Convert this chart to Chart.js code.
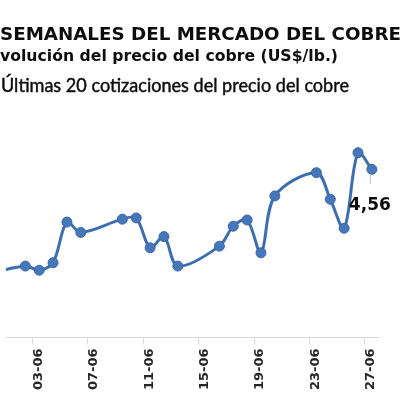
<!DOCTYPE html>
<html><head><meta charset="utf-8">
<script src="https://cdn.jsdelivr.net/npm/chart.js@4"></script>
<style>
html,body{margin:0;padding:0;background:#fff;}
#wrap{position:relative;width:400px;height:398px;overflow:hidden;background:#fff;}
#c{position:absolute;left:0;top:0;}
.t{position:absolute;white-space:nowrap;color:#0d0d0d;transform-origin:0 0;line-height:1;}
#t1{left:0px;top:25px;font-weight:bold;font-size:18.5px;font-family:'DejaVu Sans';}
#t2{left:0px;top:48px;font-weight:bold;font-size:16px;font-family:'DejaVu Sans';}
#t3{left:1px;top:75px;font-weight:normal;font-size:19px;font-family:Lato;color:#0d0d0d;-webkit-text-stroke:0.45px #0d0d0d;}
</style></head>
<body><div id="wrap">
<canvas id="c" width="400" height="398"></canvas>
<div class="t" id="t1"></div>
<div class="t" id="t2"></div>
<div class="t" id="t3"></div>
</div>
<script>
// ---- data ----
const titleLines = ["SEMANALES DEL MERCADO DEL COBRE", "volución del precio del cobre (US$/lb.)", "Últimas 20 cotizaciones del precio del cobre"];
const categories = ["30-05","02-06","03-06","04-06","05-06","06-06","09-06","10-06","11-06","12-06","13-06","16-06","17-06","18-06","19-06","20-06","23-06","24-06","25-06","26-06","27-06"];
const prices = [4.306,4.327,4.317,4.335,4.433,4.408,4.440,4.443,4.371,4.398,4.327,4.375,4.423,4.438,4.359,4.496,4.552,4.488,4.418,4.600,4.560];
const tickLabels = ["03-06","07-06","11-06","15-06","19-06","23-06","27-06"];

// ---- helpers ----
function dayNum(s){ const [d,m] = s.split('-').map(Number); return (Date.UTC(2025,m-1,d) - Date.UTC(2025,4,31))/86400000; }
const points = categories.map((c,i)=>({x: dayNum(c)+0.5, y: prices[i]}));
const tickVals = tickLabels.map(dayNum);

['t1','t2','t3'].forEach((id,i)=>{ document.getElementById(id).textContent = titleLines[i]; });
function fit(){
  const targets = {t1:401, t2:338, t3:348};
  for (const id in targets){
    const el = document.getElementById(id);
    el.style.transform = 'none';
    const w = el.getBoundingClientRect().width;
    if (w>0) el.style.transform = 'scaleX(' + (targets[id]/w) + ')';
  }
}
fit();
if (document.fonts && document.fonts.ready) document.fonts.ready.then(fit);

const lastLabel = {
  id:'lastLabel',
  afterDatasetsDraw(chart){
    const meta = chart.getDatasetMeta(0);
    const p = meta.data[meta.data.length-1];
    const ctx = chart.ctx;
    ctx.save();
    ctx.strokeStyle = '#bfbfbf'; ctx.lineWidth = 1;
    ctx.beginPath(); ctx.moveTo(p.x-1.5, p.y+5); ctx.lineTo(p.x-1.5, p.y+15); ctx.stroke();
    ctx.fillStyle = '#0d0d0d';
    ctx.font = 'bold 17px "DejaVu Sans"';
    ctx.textAlign = 'left'; ctx.textBaseline = 'alphabetic';
    ctx.fillText(prices[prices.length-1].toFixed(2).replace('.', ','), p.x-23, p.y+41);
    ctx.restore();
  }
};

new Chart(document.getElementById('c'), {
  type:'line',
  data:{ datasets:[{
    data: points,
    borderColor:'#3D6FAE',
    borderWidth:3,
    tension:0.33,
    pointRadius:5,
    pointHoverRadius:5,
    pointBackgroundColor:'#4677BA',
    pointBorderColor:'#3A69A6',
    pointBorderWidth:1,
    fill:false
  }]},
  options:{
    responsive:false,
    animation:false,
    devicePixelRatio:1,
    layout:{ padding:{ top:100, right:21.2, bottom:0, left:0 } },
    plugins:{ legend:{display:false}, tooltip:{enabled:false}, title:{display:false} },
    scales:{
      x:{
        type:'linear', min:1.104, max:28,
        afterBuildTicks(scale){ scale.ticks = tickVals.map(v=>({value:v})); },
        afterFit(scale){ scale.height = 60.5; },
        ticks:{
          autoSkip:false, minRotation:90, maxRotation:90, labelOffset:6, padding:4,
          color:'#262626', font:{family:'DejaVu Sans', size:13, weight:'bold'},
          callback(v){ const i = tickVals.indexOf(v); return i>=0 ? tickLabels[i] : ''; }
        },
        grid:{ drawOnChartArea:false, drawTicks:true, tickLength:7, color:'#d9d9d9', lineWidth:1 },
        border:{ display:true, color:'#d9d9d9', width:1 }
      },
      y:{ display:false, min:4.155, max:4.727 }
    }
  },
  plugins:[lastLabel]
});
</script>
</body></html>
